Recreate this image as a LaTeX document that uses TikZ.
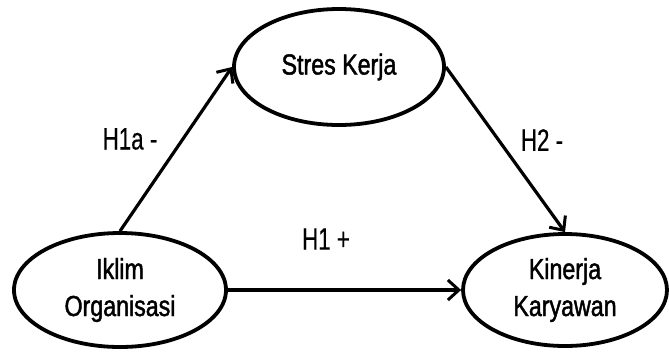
\documentclass[tikz,border=0pt]{standalone}
\usepackage{fontspec}
\setmainfont{Liberation Sans}
\newfontfamily\nodefont[FakeStretch=0.8,FakeBold=1.5]{Liberation Sans}
\newfontfamily\labfont[FakeStretch=0.72,FakeBold=0.4]{Liberation Sans}
\usetikzlibrary{shapes.geometric,arrows.meta}
\begin{document}
\begin{tikzpicture}[x=1pt,y=1pt,
  var/.style={ellipse,draw=black,line width=3.8pt,inner sep=0pt,align=center,
    font=\nodefont\fontsize{29}{37}\selectfont},
  link/.style={line width=3.2pt,-{Straight Barb[length=11pt,width=20pt,line width=3pt]}},
  hlab/.style={font=\labfont\fontsize{31}{36}\selectfont,inner sep=0pt}]
\useasboundingbox (0,0) rectangle (669,-354);
\node[var,minimum width=212pt,minimum height=114pt] (ik) at (120,-290) {Iklim\\Organisasi};
\node[var,minimum width=210pt,minimum height=116pt] (st) at (339,-67) {Stres Kerja};
\node[var,minimum width=204pt,minimum height=112pt] (ki) at (565,-290) {Kinerja\\Karyawan};
\draw[link] (ik.north) -- (st.west);
\draw[link] (st.east) -- (ki.north);
\draw[link] (ik.east) -- (ki.west);
\node[hlab] (l1) at (130,-139) {H1a -};
\node[hlab] (l2) at (326,-239) {H1 +};
\node[hlab] (l3) at (542,-140) {H2 -};
\end{tikzpicture}
\end{document}
